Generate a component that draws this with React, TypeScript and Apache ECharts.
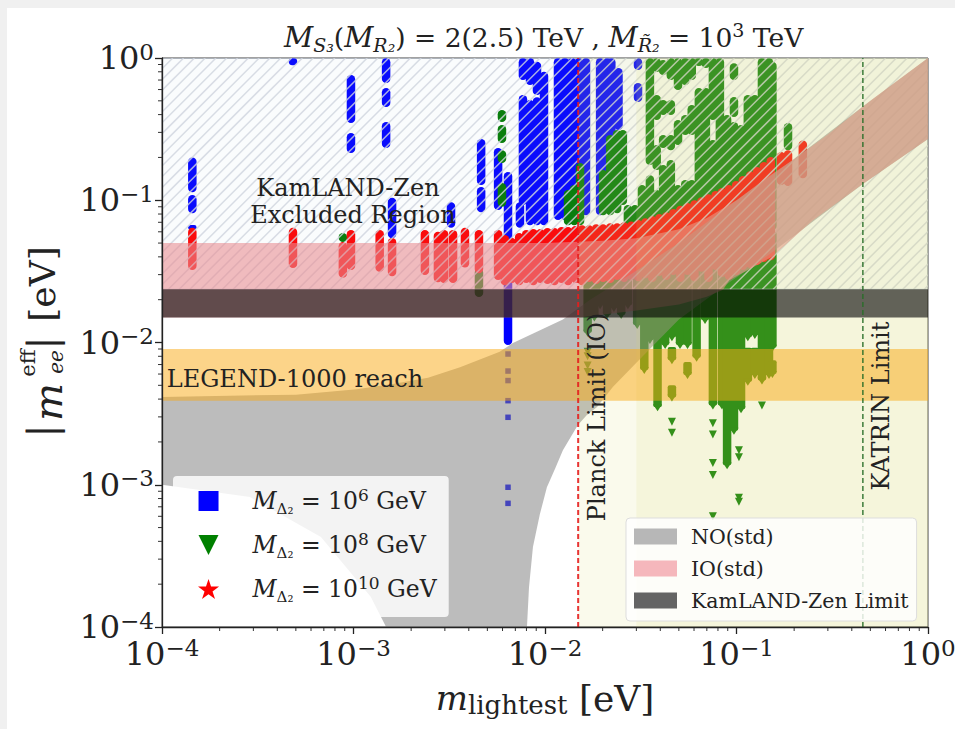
import React, { useEffect, useRef } from "react";
import * as echarts from "echarts";

const SERIF = "'DejaVu Serif', serif";

const majorTicks = [1e-4, 1e-3, 1e-2, 1e-1];
const minorMultipliers = [2, 3, 4, 5, 6, 7, 8, 9];
const minorTickValues = majorTicks.flatMap((d) => minorMultipliers.map((m) => d * m));

// Vertical runs of points: [mlightest, low, high]
const blueRuns = [
  [1.44e-4, 0.114, 0.2], [1.44e-4, 0.081, 0.109], [1.44e-4, 0.062, 0.067],
  [4.83e-4, 0.89, 1], [9.7e-4, 0.349, 0.76], [9.7e-4, 0.215, 0.297],
  [0.00148, 0.667, 1], [0.00148, 0.452, 0.615], [0.00148, 0.233, 0.355],
  [0.00159, 0.054, 0.104], [0.00323, 0.064, 0.097],
  [0.00464, 0.128, 0.27], [0.00464, 0.0825, 0.124], [0.00569, 0.0853, 0.233],
  [0.00641, 0.0096, 0.158], [0.0074, 0.064, 0.097],
  [0.00767, 0.7, 1], [0.00767, 0.0925, 0.55], [0.00835, 0.646, 1], [0.00835, 0.0668, 0.507],
  [0.00908, 0.55, 0.94], [0.00908, 0.0668, 0.53], [0.00988, 0.0668, 0.8],
  [0.01169, 0.0725, 1], [0.0127, 0.0725, 1], [0.01383, 0.0725, 1], [0.01505, 0.0725, 1],
  [0.01637, 0.0786, 1], [0.0194, 0.0786, 1], [0.0211, 0.081, 1], [0.0222, 0.081, 1],
  [0.0242, 0.312, 0.85], [0.0306, 0.823, 1], [0.0306, 0.49, 0.667],
];
const blueSingles = [
  [0.00641, 0.0083], [0.00641, 0.0063], [0.00641, 0.0054], [0.00641, 0.0039],
  [0.00641, 0.00298], [0.00641, 0.00096], [0.00641, 0.00074],
];
const greenRuns = [
  [8.8e-4, 0.0508, 0.0588], [0.00452, 0.0209, 0.0331],
  [0.00596, 0.355, 0.431], [0.00596, 0.253, 0.338], [0.00596, 0.183, 0.225], [0.00596, 0.09, 0.132],
  [0.0132, 0.0668, 0.118], [0.0142, 0.0668, 0.128], [0.01524, 0.0668, 0.183],
  [0.0201, 0.0786, 0.163], [0.0219, 0.0786, 0.287], [0.0238, 0.081, 0.312], [0.0255, 0.0925, 0.312],
  [0.0271, 0.0668, 0.0925], [0.0295, 0.0668, 0.0925], [0.0321, 0.0668, 0.128],
  [0.0353, 0.177, 1], [0.0353, 0.0668, 0.15],
  [0.0383, 0.797, 1], [0.0383, 0.366, 0.55], [0.0383, 0.163, 0.245], [0.0383, 0.0668, 0.118],
  [0.0414, 0.76, 0.968], [0.0414, 0.397, 0.507], [0.0414, 0.233, 0.287], [0.0414, 0.0668, 0.177],
  [0.0454, 0.7, 1], [0.0454, 0.397, 0.507], [0.0454, 0.225, 0.287], [0.0454, 0.0668, 0.192],
  [0.0495, 0.596, 1], [0.0495, 0.245, 0.366], [0.0495, 0.0668, 0.128],
  [0.054, 0.646, 1], [0.054, 0.287, 0.397], [0.054, 0.0668, 0.139],
  [0.0584, 0.7, 1], [0.0584, 0.287, 0.467], [0.0584, 0.0668, 0.139],
  [0.0636, 0.878, 1], [0.0636, 0.0668, 0.615], [0.0692, 0.85, 1], [0.0692, 0.0668, 0.615],
  [0.0753, 0.366, 1], [0.0753, 0.0668, 0.265], [0.0819, 0.0668, 1], [0.0893, 0.0668, 0.397],
  [0.097, 0.7, 0.92], [0.097, 0.385, 0.532], [0.097, 0.0668, 0.355],
  [0.1056, 0.0668, 0.338], [0.1146, 0.0668, 0.55], [0.1247, 0.0668, 0.55],
  [0.1358, 0.0668, 1], [0.1478, 0.0668, 1], [0.154, 0.0617, 0.94], [0.1858, 0.225, 0.349],
];
const greenLowerRuns = [
  [0.0167, 0.0117, 0.06], [0.0181, 0.015, 0.06], [0.0194, 0.0183, 0.06], [0.0211, 0.0156, 0.06],
  [0.0229, 0.0175, 0.06], [0.025, 0.0156, 0.06], [0.0271, 0.0183, 0.06], [0.0303, 0.0133, 0.06],
  [0.033, 0.0064, 0.06], [0.0353, 0.0104, 0.06], [0.0387, 0.0035, 0.06], [0.0424, 0.0096, 0.06],
  [0.046, 0.0109, 0.06], [0.046, 0.0075, 0.0093], [0.046, 0.00411, 0.005],
  [0.0507, 0.0096, 0.06], [0.0555, 0.0096, 0.06], [0.0555, 0.0059, 0.0073],
  [0.0619, 0.0078, 0.06], [0.0685, 0.0144, 0.06], [0.0753, 0.0036, 0.06], [0.084, 0.0036, 0.06],
  [0.0893, 0.00137, 0.06], [0.097, 0.0024, 0.06], [0.1056, 0.0034, 0.06],
  [0.1146, 0.0109, 0.06], [0.1146, 0.0053, 0.0092], [0.1247, 0.0113, 0.06], [0.1247, 0.0059, 0.0092],
  [0.1358, 0.0054, 0.06], [0.1478, 0.0059, 0.06], [0.154, 0.0092, 0.06], [0.154, 0.006, 0.0075],
];
const greenSingles = [
  [0.0167, 0.0086], [0.0167, 0.008], [0.0167, 0.0069], [0.0167, 0.0062],
  [0.046, 0.00277], [0.046, 0.00232], [0.0753, 0.00271], [0.0753, 0.00226],
  [0.0753, 0.00142], [0.0753, 0.00117], [0.0753, 0.0006],
  [0.103, 0.00175], [0.103, 0.00156], [0.103, 0.00081], [0.103, 0.00076], [0.1358, 0.0036],
];
const redRuns = [
  [1.44e-4, 0.0323, 0.064], [4.83e-4, 0.0334, 0.064], [8.8e-4, 0.0285, 0.0508], [9.7e-4, 0.0323, 0.0617],
  [0.00137, 0.0314, 0.0617], [0.00159, 0.0292, 0.0543], [0.00236, 0.0298, 0.0617], [0.00276, 0.0265, 0.06],
  [0.00297, 0.0262, 0.0617], [0.00331, 0.0262, 0.0617], [0.00382, 0.0337, 0.064], [0.00452, 0.0307, 0.0617],
  [0.00569, 0.0275, 0.0617], [0.00617, 0.0253, 0.0569], [0.00672, 0.0262, 0.0543], [0.00733, 0.0253, 0.0588],
  [0.00798, 0.0262, 0.0617], [0.00869, 0.0253, 0.0628], [0.00946, 0.0262, 0.0628], [0.0103, 0.0258, 0.0638],
  [0.0112, 0.0253, 0.0638], [0.0122, 0.0262, 0.0648], [0.0132, 0.0253, 0.0648], [0.0144, 0.0262, 0.0658],
  [0.0156, 0.0253, 0.0668], [0.017, 0.0266, 0.0668], [0.0185, 0.0258, 0.0679], [0.0201, 0.0266, 0.0679],
  [0.0219, 0.0262, 0.0689], [0.0238, 0.0275, 0.0689], [0.0259, 0.0266, 0.07], [0.0282, 0.0275, 0.071],
  [0.0307, 0.027, 0.0725], [0.0334, 0.0283, 0.0748], [0.0363, 0.0266, 0.0775], [0.0395, 0.0294, 0.08],
  [0.043, 0.0275, 0.0825], [0.0468, 0.0298, 0.0868], [0.0509, 0.0266, 0.0915], [0.0554, 0.0298, 0.0957],
  [0.0603, 0.027, 0.1], [0.0656, 0.0314, 0.105], [0.0714, 0.0266, 0.11], [0.0778, 0.0323, 0.116],
  [0.084, 0.0289, 0.122], [0.0913, 0.0275, 0.128], [0.0995, 0.0298, 0.1365], [0.108, 0.0323, 0.148],
  [0.118, 0.0334, 0.16], [0.128, 0.035, 0.171], [0.139, 0.0368, 0.186], [0.151, 0.0379, 0.201],
  [0.171, 0.128, 0.218], [0.1858, 0.126, 0.225], [0.222, 0.143, 0.263],
];

// Bands and theory regions
const noRegion = [
  [1e-4, 0.00414], [5e-4, 0.0043], [1.04e-3, 0.0047], [1.6e-3, 0.0051], [2.45e-3, 0.00565], [3.6e-3, 0.0067],
  [5.8e-3, 0.0086], [6.8e-3, 0.0099], [0.0124, 0.0145], [0.0172, 0.02], [0.03, 0.032], [0.05, 0.05], [0.1, 0.1],
  [0.2, 0.195], [0.457, 0.457], [1, 1],
  [1, 0.27], [0.457, 0.13], [0.15, 0.042], [0.09, 0.026], [0.05, 0.0145], [0.03, 0.0072], [0.0226, 0.00486],
  [0.0187, 0.00352], [0.0165, 0.00308], [0.01485, 0.00263], [0.0124, 0.00175], [0.0113, 0.0013], [0.01023, 9.6e-4],
  [0.0094, 6.2e-4], [0.00865, 3.65e-4], [0.00825, 1.9e-4], [0.00805, 1e-4],
  [0.00148, 1e-4], [0.00123, 1.63e-4], [6.76e-4, 4.3e-4], [2.88e-4, 8.2e-4], [1e-4, 1e-3],
];
const ioRegion = [
  [1e-4, 0.05], [0.01, 0.05], [0.02, 0.052], [0.03, 0.054], [0.05, 0.0625], [0.07, 0.075], [0.1, 0.1],
  [0.15, 0.15], [0.2, 0.195], [0.3, 0.29], [0.5, 0.5], [1, 1],
  [1, 0.27], [0.457, 0.13], [0.25, 0.072], [0.153, 0.04], [0.092, 0.0275], [0.085, 0.0235], [0.07, 0.021],
  [0.05, 0.0185], [0.03, 0.0168], [0.015, 0.015], [1e-4, 0.015],
];
const kamlandBand = [0.015, 0.0237];
const legendBand = [0.0039, 0.009];
const excludedBand = [0.0237, 1];
const planckLimit = 0.0149;
const katrinLimit = 0.457;
const cosmoEdgeLow = 0.0149;
const cosmoEdgeHigh = 0.03;

const names = {
  blue: "M_D2 = 10^6 GeV",
  green: "M_D2 = 10^8 GeV",
  red: "M_D2 = 10^10 GeV",
  no: "NO(std)",
  io: "IO(std)",
  kam: "KamLAND-Zen Limit",
};

const rect = (x0: number, x1: number, y0: number, y1: number) => [[x0, y0], [x1, y0], [x1, y1], [x0, y1]];

const polygonSeries = (name: string, pts: number[][], fill: string, stroke = "none") => ({
  type: "custom",
  name,
  silent: true,
  clip: true,
  z: 2,
  data: pts,
  encode: { x: 0, y: 1 },
  renderItem: (params: any, api: any) =>
    params.dataIndex === 0
      ? {
          type: "polygon",
          shape: { points: pts.map((p) => api.coord(p)) },
          style: { fill, stroke, lineWidth: 1 },
        }
      : null,
});

const runSeries = (name: string, runs: number[][], fill: string, tip: boolean) => ({
  type: "custom",
  name,
  silent: true,
  clip: true,
  z: 2,
  data: runs,
  encode: { x: 0, y: [1, 2] },
  itemStyle: { color: fill },
  renderItem: (_p: any, api: any) => {
    const top = api.coord([api.value(0), api.value(2)]);
    const bot = api.coord([api.value(0), api.value(1)]);
    const w = 8.5;
    const children: any[] = [
      {
        type: "rect",
        shape: { x: top[0] - w / 2, y: top[1], width: w, height: Math.max(bot[1] - top[1], 2), r: tip ? 2 : w / 2 },
        style: { fill },
      },
    ];
    if (tip) {
      children.push({
        type: "polygon",
        shape: { points: [[bot[0] - 4.5, bot[1] - 3], [bot[0] + 4.5, bot[1] - 3], [bot[0], bot[1] + 4]] },
        style: { fill },
      });
    }
    return { type: "group", children };
  },
});

const hatchSeries = () => ({
  type: "custom",
  name: "hatch",
  silent: true,
  clip: true,
  z: 2,
  data: [[1e-4, excludedBand[0]]],
  encode: { x: 0, y: 1 },
  renderItem: (params: any, api: any) => {
    const x0 = params.coordSys.x;
    const x1 = x0 + params.coordSys.width;
    const yb = api.coord([1, excludedBand[0]])[1];
    const yt = api.coord([1, excludedBand[1]])[1];
    const h = yb - yt;
    const children: any[] = [];
    for (let c = x0 - h; c < x1; c += 10.8) {
      let sx = c, sy = yb, ex = c + h, ey = yt;
      if (sx < x0) { sy -= x0 - sx; sx = x0; }
      if (ex > x1) { ey += ex - x1; ex = x1; }
      if (ex <= sx) continue;
      children.push({
        type: "line",
        shape: { x1: sx, y1: sy, x2: ex, y2: ey },
        style: { stroke: "rgba(207,212,222,0.82)", lineWidth: 1.5 },
      });
    }
    return { type: "group", children };
  },
});

const tickSeries = (axis: "x" | "y") => ({
  type: "custom",
  name: "minor-" + axis,
  silent: true,
  clip: false,
  z: 3,
  data: minorTickValues.map((v) => [v]),
  encode: axis === "x" ? { x: 0 } : { y: 0 },
  renderItem: (_p: any, api: any) => {
    const v = api.value(0);
    if (axis === "x") {
      const p = api.coord([v, 1e-4]);
      return { type: "line", shape: { x1: p[0], y1: p[1], x2: p[0], y2: p[1] + 4 }, style: { stroke: "#333", lineWidth: 1 } };
    }
    const p = api.coord([1e-4, v]);
    return { type: "line", shape: { x1: p[0], y1: p[1], x2: p[0] - 4, y2: p[1] }, style: { stroke: "#333", lineWidth: 1 } };
  },
});

const vline = (x: number, color: string, width: number) => ({
  type: "line",
  silent: true,
  z: 2,
  symbol: "none",
  data: [[x, 1e-4], [x, 1]],
  lineStyle: { color, width, type: [5, 3] },
});

const tickFormatter = (v: number) => {
  const e = Math.round(Math.log10(v));
  return `{b|10}{s|${e < 0 ? "\u2212" + -e : e}}`;
};
const tickRich = {
  b: { fontFamily: SERIF, fontSize: 32, color: "#222", lineHeight: 36 },
  s: { fontFamily: SERIF, fontSize: 23, color: "#222", lineHeight: 20, verticalAlign: "top" },
};

const squareIcon = "path://M0 0H10V10H0Z";
const triangleIcon = "path://M0 0H10L5 10Z";
const starIcon = "path://M5 0L6.2 3.6L10 3.6L6.9 5.9L8.1 9.5L5 7.3L1.9 9.5L3.1 5.9L0 3.6L3.8 3.6Z";

const massLabel = (exp: string) => `{pad|}{i|M}{sub|\u0394\u2082}{t| = 10}{sup|${exp}}{t| GeV}`;

const plainText = (text: string, x: number, y: number, size: number, rotation = 0, extra: any = {}) => ({
  type: "text",
  x,
  y,
  rotation,
  z: 30,
  style: { text, fontFamily: SERIF, fontSize: size, fill: "#222", textAlign: "center", textVerticalAlign: "middle", ...extra },
});

export default function App() {
  const ref = useRef<HTMLDivElement>(null);
  useEffect(() => {
    const chart = echarts.init(ref.current!, undefined, { renderer: "svg" });
    chart.setOption({
      animation: false,
      backgroundColor: "transparent",
      title: {
        left: 284,
        top: 20,
        padding: 0,
        text:
          "{i|M}{sub|S\u2083}{t|(}{i|M}{sub|R\u2082}{t|) = 2(2.5) TeV , }{i|M}{sub|R\u0303\u2082}{t| = 10}{sup|3}{t| TeV}",
        textStyle: {
          fontWeight: "normal",
          rich: {
            t: { fontFamily: SERIF, fontWeight: "normal", fontSize: 26.5, color: "#222", lineHeight: 34 },
            i: { fontFamily: SERIF, fontWeight: "normal", fontStyle: "italic", fontSize: 28.5, color: "#222", lineHeight: 34 },
            sub: { fontFamily: SERIF, fontWeight: "normal", fontStyle: "italic", fontSize: 19, color: "#222", lineHeight: 16, verticalAlign: "bottom" },
            sup: { fontFamily: SERIF, fontWeight: "normal", fontSize: 19, color: "#222", lineHeight: 14, verticalAlign: "top" },
          },
        },
      },
      grid: { left: 162, top: 58, width: 766, height: 569, show: true, borderColor: "#444", borderWidth: 1, backgroundColor: "#fff", outerBoundsMode: "none" },
      xAxis: {
        type: "log",
        logBase: 10,
        min: 1e-4,
        max: 1,
        z: 3,
        splitLine: { show: false },
        axisLine: { onZero: false, lineStyle: { color: "#222", width: 1.3 } },
        axisTick: { length: 7, lineStyle: { color: "#222", width: 1.3 } },
        axisLabel: { margin: 9, formatter: tickFormatter, rich: tickRich, showMinLabel: true, showMaxLabel: true, hideOverlap: false },
        name: "{i|m}{sub|lightest}{t| [eV]}",
        nameLocation: "middle",
        nameGap: 51,
        nameTextStyle: {
          rich: {
            t: { fontFamily: SERIF, fontSize: 36, color: "#222", lineHeight: 40 },
            i: { fontFamily: SERIF, fontStyle: "italic", fontSize: 34, color: "#222", lineHeight: 40 },
            sub: { fontFamily: SERIF, fontSize: 26, color: "#222", lineHeight: 26, verticalAlign: "bottom" },
          },
        },
      },
      yAxis: {
        type: "log",
        logBase: 10,
        min: 1e-4,
        max: 1,
        z: 3,
        splitLine: { show: false },
        axisLine: { onZero: false, lineStyle: { color: "#222", width: 1.3 } },
        axisTick: { length: 7, lineStyle: { color: "#222", width: 1.3 } },
        axisLabel: { margin: 8, formatter: tickFormatter, rich: tickRich, showMinLabel: true, showMaxLabel: true, hideOverlap: false },
      },
      legend: [
        {
          left: 173,
          top: 476,
          orient: "vertical",
          padding: [10, 12, 13, 25],
          itemWidth: 70,
          itemHeight: 20,
          itemGap: 14,
          selectedMode: false,
          backgroundColor: "rgba(255,255,255,0.82)",
          borderRadius: 4,
          data: [
            { name: names.blue, icon: squareIcon, itemStyle: { color: "#0000ff", opacity: 1 } },
            { name: names.green, icon: triangleIcon, itemStyle: { color: "#008000", opacity: 1 } },
            { name: names.red, icon: starIcon, itemStyle: { color: "#ff0000", opacity: 1 } },
          ],
          formatter: (n: string) =>
            n === names.blue ? massLabel("6") : n === names.green ? massLabel("8") : massLabel("10"),
          textStyle: {
            rich: {
              pad: { width: 4, lineHeight: 30 },
              t: { fontFamily: SERIF, fontSize: 23.5, color: "#222", lineHeight: 30 },
              i: { fontFamily: SERIF, fontStyle: "italic", fontSize: 23.5, color: "#222", lineHeight: 30 },
              sub: { fontFamily: SERIF, fontSize: 15, color: "#222", lineHeight: 14, verticalAlign: "bottom" },
              sup: { fontFamily: SERIF, fontSize: 17, color: "#222", lineHeight: 14, verticalAlign: "top" },
            },
          },
        },
        {
          left: 626,
          top: 518,
          orient: "vertical",
          padding: [8, 8, 10, 8],
          itemWidth: 43,
          itemHeight: 16,
          itemGap: 11,
          selectedMode: false,
          backgroundColor: "rgba(255,255,255,0.82)",
          borderColor: "#ddd",
          borderWidth: 1,
          borderRadius: 4,
          data: [
            { name: names.no, icon: "rect", itemStyle: { color: "rgb(183,183,183)" } },
            { name: names.io, icon: "rect", itemStyle: { color: "rgb(245,183,188)" } },
            { name: names.kam, icon: "rect", itemStyle: { color: "rgb(100,100,100)" } },
          ],
          formatter: (n: string) => `{t|${n}}`,
          textStyle: {
            rich: { t: { fontFamily: SERIF, fontSize: 20.5, color: "#222", lineHeight: 20, padding: [0, 0, 0, 9] } },
          },
        },
      ],
      graphic: {
        z: 30,
        elements: [
          plainText("KamLAND-Zen", 348, 188, 24),
          plainText("Excluded Region", 353, 215, 24),
          plainText("LEGEND-1000 reach", 295, 379, 24),
          plainText("Planck Limit (IO)", 597, 417, 24, Math.PI / 2),
          plainText("KATRIN Limit", 881, 406, 24, Math.PI / 2),
          {
            type: "group",
            x: 0,
            y: 0,
            z: 30,
            children: [
              plainText("|", 42, 431, 40, Math.PI / 2),
              plainText("m", 48, 402, 40, Math.PI / 2, { fontStyle: "italic" }),
              plainText("eff", 28, 363, 21, Math.PI / 2),
              plainText("ee", 56, 362, 20, Math.PI / 2, { fontStyle: "italic" }),
              plainText("|", 42, 343, 40, Math.PI / 2),
              plainText("[eV]", 42, 284, 36, Math.PI / 2),
            ],
          },
        ],
      },
      series: [
        {
          type: "scatter", name: names.blue, silent: true, z: 1, symbol: "rect", symbolSize: 5.5,
          itemStyle: { color: "#0000ff", opacity: 1 }, data: blueSingles,
        },
        {
          type: "scatter", name: names.green, silent: true, z: 1, symbol: triangleIcon, symbolSize: 8,
          itemStyle: { color: "#007a00", opacity: 1 }, data: greenSingles,
        },
        runSeries(names.blue, blueRuns, "#0000ff", false),
        runSeries(names.green, greenRuns, "#007a00", false),
        runSeries(names.green, greenLowerRuns, "#007a00", true),
        runSeries(names.red, redRuns, "#ff0000", false),
        polygonSeries("excluded", rect(1e-4, 1, excludedBand[0], excludedBand[1]), "rgba(176,196,222,0.06)", "rgba(190,205,225,0.7)"),
        hatchSeries(),
        polygonSeries(names.no, noRegion, "rgba(128,128,128,0.53)"),
        polygonSeries(names.io, ioRegion, "rgba(232,140,145,0.58)"),
        polygonSeries("cosmo1", rect(cosmoEdgeLow, 1, 1e-4, 1), "rgba(215,215,110,0.13)"),
        polygonSeries("cosmo2", rect(cosmoEdgeHigh, 1, 1e-4, 1), "rgba(215,215,110,0.13)"),
        polygonSeries("legend1000", rect(1e-4, 1, legendBand[0], legendBand[1]), "rgba(250,170,20,0.5)"),
        polygonSeries(names.kam, rect(1e-4, 1, kamlandBand[0], kamlandBand[1]), "rgba(0,0,0,0.6)"),
        vline(planckLimit, "rgba(230,30,30,0.9)", 2),
        vline(katrinLimit, "rgba(40,110,40,0.9)", 1.5),
        tickSeries("x"),
        tickSeries("y"),
      ],
    });
    return () => chart.dispose();
  }, []);

  return (
    <div style={{ position: "fixed", left: 0, top: 0, width: 955, height: 729, background: "#f0f0f0", overflow: "hidden" }}>
      <div style={{ position: "absolute", left: 7, top: 8, right: 0, bottom: 0, background: "#fff" }} />
      <div ref={ref} style={{ position: "absolute", left: 0, top: 0, width: 955, height: 729 }} />
    </div>
  );
}
